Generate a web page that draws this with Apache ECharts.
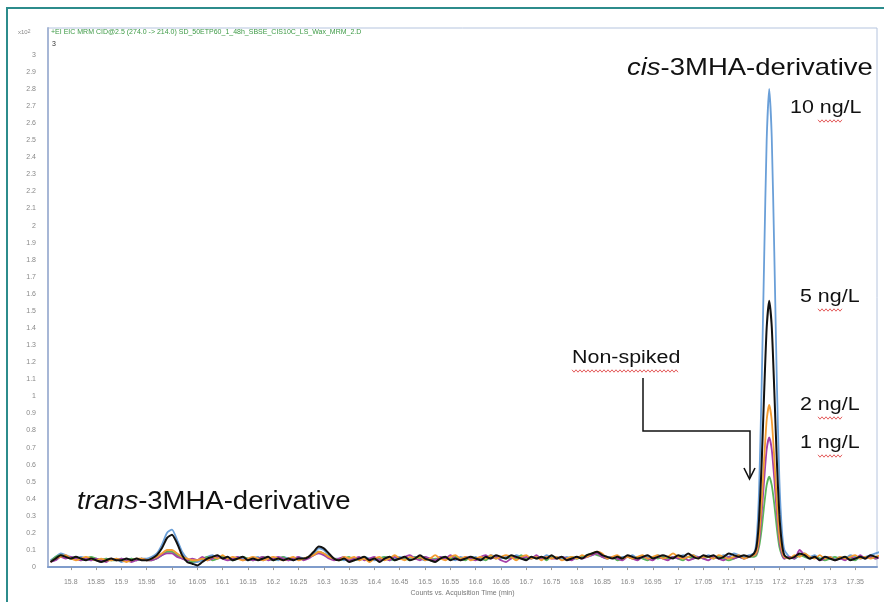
<!DOCTYPE html>
<html>
<head>
<meta charset="utf-8">
<script src="https://cdn.jsdelivr.net/npm/echarts@6/dist/echarts.min.js"></script>
<style>
  html, body { margin: 0; padding: 0; background: #fff; }
  #chart { width: 884px; height: 602px; }
</style>
</head>
<body>
<div id="chart"></div>
<script>
// acquisition time (min)
const times = [
  15.76,15.77,15.78,15.79,15.80,15.81,15.82,15.83,15.84,15.85,
  15.86,15.87,15.88,15.89,15.90,15.91,15.92,15.93,15.94,15.95,
  15.96,15.97,15.98,15.99,16.00,16.01,16.02,16.03,16.04,16.05,
  16.06,16.07,16.08,16.09,16.10,16.11,16.12,16.13,16.14,16.15,
  16.16,16.17,16.18,16.19,16.20,16.21,16.22,16.23,16.24,16.25,
  16.26,16.27,16.28,16.29,16.30,16.31,16.32,16.33,16.34,16.35,
  16.36,16.37,16.38,16.39,16.40,16.41,16.42,16.43,16.44,16.45,
  16.46,16.47,16.48,16.49,16.50,16.51,16.52,16.53,16.54,16.55,
  16.56,16.57,16.58,16.59,16.60,16.61,16.62,16.63,16.64,16.65,
  16.66,16.67,16.68,16.69,16.70,16.71,16.72,16.73,16.74,16.75,
  16.76,16.77,16.78,16.79,16.80,16.81,16.82,16.83,16.84,16.85,
  16.86,16.87,16.88,16.89,16.90,16.91,16.92,16.93,16.94,16.95,
  16.96,16.97,16.98,16.99,17.00,17.01,17.02,17.03,17.04,17.05,
  17.06,17.07,17.08,17.09,17.10,17.11,17.12,17.13,17.14,17.15,
  17.155,17.16,17.165,17.17,17.175,17.18,17.185,17.19,17.195,17.20,17.205,17.21,
  17.22,17.23,17.24,17.25,17.26,17.27,17.28,17.29,17.30,17.31,
  17.32,17.33,17.34,17.35,17.36,17.37,17.38,17.39,17.40
]

// counts (x10^2)
const spike10 = [
  0.04,0.06,0.08,0.07,0.06,0.05,0.06,0.05,0.04,0.05,
  0.04,0.05,0.04,0.05,0.03,0.04,0.05,0.04,0.05,0.05,
  0.06,0.08,0.13,0.20,0.22,0.16,0.09,0.05,0.03,0.03,
  0.04,0.06,0.07,0.05,0.06,0.05,0.04,0.06,0.05,0.04,
  0.05,0.06,0.04,0.05,0.05,0.04,0.06,0.05,0.04,0.06,
  0.05,0.06,0.08,0.11,0.10,0.07,0.05,0.05,0.04,0.05,
  0.05,0.04,0.06,0.05,0.04,0.05,0.06,0.04,0.05,0.06,
  0.05,0.05,0.06,0.05,0.04,0.05,0.04,0.06,0.05,0.05,
  0.04,0.06,0.05,0.05,0.06,0.04,0.05,0.07,0.06,0.05,
  0.06,0.05,0.07,0.06,0.05,0.05,0.06,0.05,0.07,0.06,
  0.06,0.05,0.06,0.05,0.05,0.06,0.06,0.07,0.08,0.07,
  0.06,0.06,0.05,0.06,0.06,0.07,0.05,0.06,0.06,0.05,
  0.07,0.06,0.05,0.06,0.06,0.07,0.06,0.07,0.06,0.06,
  0.07,0.06,0.06,0.07,0.06,0.08,0.07,0.06,0.07,0.08,
  0.16,0.45,1.05,1.80,2.50,2.80,2.52,1.85,1.10,0.52,0.22,0.10,
  0.06,0.05,0.07,0.08,0.06,0.07,0.05,0.06,0.06,0.05,
  0.06,0.05,0.07,0.06,0.05,0.06,0.07,0.08,0.09
]
const spike5 = [
  0.03,0.05,0.07,0.06,0.05,0.06,0.05,0.04,0.05,0.04,
  0.03,0.04,0.05,0.04,0.04,0.05,0.04,0.05,0.04,0.04,
  0.05,0.07,0.11,0.17,0.19,0.14,0.07,0.03,0.02,0.01,
  0.03,0.05,0.06,0.07,0.05,0.06,0.04,0.05,0.06,0.04,
  0.05,0.04,0.05,0.06,0.04,0.05,0.04,0.05,0.04,0.05,
  0.05,0.06,0.09,0.12,0.11,0.08,0.05,0.04,0.05,0.03,
  0.04,0.05,0.06,0.04,0.05,0.03,0.05,0.06,0.04,0.05,
  0.06,0.04,0.05,0.07,0.05,0.04,0.03,0.05,0.06,0.04,
  0.05,0.04,0.05,0.06,0.05,0.04,0.06,0.05,0.07,0.06,
  0.05,0.07,0.06,0.05,0.04,0.06,0.05,0.06,0.05,0.07,
  0.05,0.06,0.04,0.05,0.06,0.05,0.07,0.08,0.09,0.07,
  0.06,0.05,0.06,0.05,0.07,0.06,0.05,0.06,0.07,0.05,
  0.06,0.07,0.06,0.05,0.07,0.06,0.08,0.06,0.05,0.07,
  0.06,0.07,0.05,0.06,0.08,0.07,0.06,0.07,0.06,0.08,
  0.12,0.28,0.60,1.02,1.40,1.56,1.41,1.04,0.63,0.31,0.14,0.07,
  0.05,0.06,0.08,0.07,0.05,0.06,0.04,0.06,0.05,0.04,
  0.05,0.06,0.04,0.05,0.06,0.05,0.07,0.06,0.05
]
const spike2 = [
  0.03,0.05,0.06,0.07,0.05,0.04,0.05,0.06,0.05,0.04,
  0.05,0.04,0.04,0.05,0.04,0.03,0.04,0.05,0.05,0.04,
  0.05,0.06,0.08,0.10,0.10,0.08,0.06,0.05,0.04,0.04,
  0.05,0.04,0.06,0.05,0.07,0.05,0.06,0.05,0.04,0.05,
  0.06,0.05,0.04,0.05,0.06,0.05,0.04,0.05,0.06,0.04,
  0.05,0.06,0.07,0.09,0.08,0.06,0.05,0.04,0.06,0.05,
  0.06,0.04,0.05,0.03,0.05,0.06,0.04,0.05,0.07,0.05,
  0.04,0.06,0.05,0.06,0.04,0.05,0.07,0.05,0.04,0.06,
  0.07,0.05,0.06,0.04,0.05,0.06,0.05,0.07,0.05,0.06,
  0.07,0.06,0.04,0.06,0.07,0.05,0.06,0.04,0.06,0.05,
  0.06,0.04,0.05,0.06,0.05,0.07,0.06,0.08,0.09,0.08,
  0.05,0.06,0.07,0.05,0.06,0.05,0.06,0.07,0.05,0.06,
  0.07,0.05,0.06,0.08,0.06,0.05,0.06,0.07,0.05,0.06,
  0.06,0.05,0.07,0.06,0.05,0.06,0.07,0.05,0.06,0.07,
  0.09,0.18,0.38,0.63,0.86,0.95,0.86,0.64,0.39,0.19,0.10,0.06,
  0.05,0.07,0.06,0.08,0.06,0.05,0.07,0.05,0.06,0.04,
  0.06,0.05,0.06,0.07,0.05,0.06,0.05,0.06,0.07
]
const spike1 = [
  0.03,0.04,0.06,0.05,0.06,0.05,0.04,0.05,0.04,0.05,
  0.04,0.03,0.05,0.04,0.05,0.04,0.03,0.04,0.05,0.04,
  0.04,0.05,0.07,0.08,0.08,0.06,0.05,0.04,0.05,0.04,
  0.06,0.04,0.05,0.06,0.05,0.04,0.05,0.06,0.04,0.05,
  0.04,0.05,0.06,0.04,0.05,0.06,0.05,0.04,0.05,0.06,
  0.04,0.05,0.07,0.08,0.07,0.05,0.04,0.05,0.06,0.04,
  0.05,0.06,0.04,0.05,0.06,0.04,0.05,0.04,0.06,0.05,
  0.06,0.07,0.05,0.04,0.06,0.05,0.04,0.06,0.05,0.07,
  0.05,0.04,0.06,0.05,0.04,0.06,0.07,0.05,0.06,0.04,
  0.03,0.05,0.06,0.05,0.06,0.05,0.07,0.05,0.06,0.05,
  0.05,0.06,0.05,0.04,0.06,0.05,0.06,0.07,0.08,0.06,
  0.05,0.06,0.05,0.04,0.06,0.05,0.04,0.06,0.05,0.04,
  0.06,0.05,0.04,0.06,0.05,0.06,0.04,0.05,0.06,0.05,
  0.04,0.06,0.05,0.04,0.06,0.05,0.06,0.05,0.06,0.07,
  0.08,0.15,0.31,0.51,0.69,0.76,0.69,0.52,0.32,0.16,0.08,0.05,
  0.06,0.05,0.10,0.07,0.05,0.06,0.04,0.05,0.06,0.04,
  0.05,0.04,0.06,0.05,0.07,0.05,0.06,0.05,0.06
]
const nonSpiked = [
  0.03,0.06,0.07,0.06,0.05,0.06,0.04,0.05,0.06,0.05,
  0.04,0.05,0.04,0.04,0.05,0.04,0.05,0.04,0.05,0.04,
  0.04,0.05,0.07,0.09,0.09,0.07,0.05,0.04,0.03,0.04,
  0.05,0.06,0.04,0.05,0.06,0.05,0.04,0.05,0.06,0.05,
  0.04,0.05,0.06,0.05,0.04,0.05,0.06,0.04,0.05,0.05,
  0.05,0.06,0.07,0.09,0.08,0.06,0.05,0.04,0.05,0.06,
  0.04,0.05,0.06,0.04,0.05,0.05,0.06,0.05,0.04,0.05,
  0.05,0.04,0.06,0.05,0.06,0.04,0.05,0.05,0.06,0.05,
  0.06,0.05,0.04,0.06,0.05,0.05,0.04,0.06,0.05,0.06,
  0.05,0.06,0.05,0.07,0.05,0.06,0.05,0.06,0.04,0.06,
  0.05,0.06,0.05,0.06,0.05,0.06,0.07,0.08,0.07,0.06,
  0.05,0.06,0.04,0.05,0.06,0.05,0.06,0.05,0.04,0.06,
  0.05,0.06,0.05,0.06,0.05,0.04,0.06,0.05,0.06,0.05,
  0.06,0.05,0.06,0.05,0.04,0.05,0.06,0.05,0.06,0.06,
  0.07,0.12,0.22,0.36,0.48,0.53,0.48,0.37,0.23,0.12,0.07,0.05,
  0.06,0.05,0.07,0.06,0.05,0.06,0.05,0.04,0.05,0.06,
  0.05,0.06,0.05,0.04,0.06,0.05,0.06,0.05,0.06
]

const xTicks = [15.8,15.85,15.9,15.95,16,16.05,16.1,16.15,16.2,16.25,16.3,16.35,16.4,16.45,16.5,16.55,
  16.6,16.65,16.7,16.75,16.8,16.85,16.9,16.95,17,17.05,17.1,17.15,17.2,17.25,17.3,17.35]
const yTicks = [0,0.1,0.2,0.3,0.4,0.5,0.6,0.7,0.8,0.9,1,1.1,1.2,1.3,1.4,1.5,1.6,1.7,1.8,1.9,
  2,2.1,2.2,2.3,2.4,2.5,2.6,2.7,2.8,2.9,3]

const font = 'Liberation Sans, Arial, sans-serif'

// order = drawing order, black on top
const traces = [
  { name: '10 ng/L', vals: spike10, color: '#6a9fd8', width: 1.8 },
  { name: 'non-spiked', vals: nonSpiked, color: '#5bb55b', width: 1.8 },
  { name: '1 ng/L', vals: spike1, color: '#a43fa8', width: 1.8 },
  { name: '2 ng/L', vals: spike2, color: '#f39c32', width: 1.8 },
  { name: '5 ng/L', vals: spike5, color: '#111111', width: 2 }
]

const chart = echarts.init(document.getElementById('chart'))

// red spell-check squiggle under a word
function squiggle(x, y, w) {
  const pts = []
  for (let i = 0; i <= w; i += 2) pts.push([x + i, y + ((i / 2) % 2 ? 1.2 : -1.2)])
  return { type: 'polyline', shape: { points: pts }, style: { stroke: '#d33', lineWidth: 0.8, fill: null }, silent: true, z: 20 }
}

// the figure's text is a bit wide, so stretch it sideways
function label(x, y, text, size, sx) {
  return { type: 'text', x: x, y: y, z: 20, scaleX: sx || 1.19,
    style: { text: text, font: size + 'px ' + font, fill: '#111', textVerticalAlign: 'middle' } }
}

const option = {
  animation: false,
  grid: { left: 48, right: 7, top: 28, bottom: 30, show: true, borderColor: '#b5c4de', borderWidth: 1, backgroundColor: '#fff' },
  xAxis: {
    type: 'value', min: 15.755, max: 17.393,
    name: 'Counts vs. Acquisition Time (min)', nameLocation: 'middle', nameGap: 20,
    nameTextStyle: { fontSize: 7, color: '#777', fontFamily: font },
    axisLine: { lineStyle: { color: '#7f9ccb', width: 2 } },
    axisTick: { show: true, customValues: xTicks, length: 3, lineStyle: { color: '#999' } },
    axisLabel: { customValues: xTicks, fontSize: 7, color: '#888', margin: 11, fontFamily: font },
    splitLine: { show: false }
  },
  yAxis: {
    type: 'value', min: 0, max: 3.157,
    axisLine: { show: true, lineStyle: { color: '#a7b7d6', width: 2 } },
    axisTick: { show: false, customValues: yTicks },
    axisLabel: { customValues: yTicks, fontSize: 7, color: '#888', margin: 12, fontFamily: font },
    splitLine: { show: false }
  },
  series: traces.map(tr => ({
    type: 'line', name: tr.name, showSymbol: false, smooth: 0.2,
    data: times.map((t, i) => [t, tr.vals[i]]),
    lineStyle: { color: tr.color, width: tr.width },
    itemStyle: { color: tr.color }
  })),
  graphic: [
    // teal page frame
    { type: 'polyline', shape: { points: [[7, 602], [7, 8], [884, 8]] }, style: { stroke: '#2c8c8c', lineWidth: 2, fill: null }, silent: true },
    // header texts
    { type: 'text', x: 18, y: 32, style: { text: 'x10{s|2}', rich: { s: { fontSize: 5, verticalAlign: 'top', fill: '#888' } }, font: '6px ' + font, fill: '#888', textVerticalAlign: 'middle' } },
    { type: 'text', x: 51, y: 32, z: 20, style: { text: '+EI EIC MRM CID@2.5 (274.0 -> 214.0) SD_50ETP60_1_48h_SBSE_CIS10C_LS_Wax_MRM_2.D', font: '7px ' + font, fill: '#3d9a45', textVerticalAlign: 'middle' } },
    { type: 'text', x: 52, y: 44, z: 20, style: { text: '3', font: '7px ' + font, fill: '#333', textVerticalAlign: 'middle' } },
    // peak annotations
    { type: 'text', x: 627, y: 68, z: 20, scaleX: 1.145, style: {
      text: '{i|cis}-3MHA-derivative', font: '24px ' + font, fill: '#111', textVerticalAlign: 'middle',
      rich: { i: { fontStyle: 'italic', fontSize: 24, fontFamily: font, fill: '#111' } } } },
    { type: 'text', x: 77, y: 502, z: 20, scaleX: 1.1, style: {
      text: '{i|trans}-3MHA-derivative', font: '25px ' + font, fill: '#111', textVerticalAlign: 'middle',
      rich: { i: { fontStyle: 'italic', fontSize: 25, fontFamily: font, fill: '#111' } } } },
    label(790, 108, '10 ng/L', 18),
    label(800, 297, '5 ng/L', 18),
    label(800, 405, '2 ng/L', 18),
    label(800, 443, '1 ng/L', 18),
    label(572, 358, 'Non-spiked', 18),
    squiggle(818, 121, 25), squiggle(818, 310, 25), squiggle(818, 418, 25), squiggle(818, 456, 25),
    squiggle(572, 371, 106),
    // arrow to non-spiked trace
    { type: 'polyline', shape: { points: [[643, 378], [643, 431], [750, 431], [750, 478]] }, style: { stroke: '#111', lineWidth: 1.5, fill: null }, silent: true, z: 20 },
    { type: 'polyline', shape: { points: [[744, 468], [749.5, 479], [755, 468]] }, style: { stroke: '#111', lineWidth: 1.6, fill: null }, silent: true, z: 20 }
  ]
}
chart.setOption(option)
</script>
</body>
</html>
